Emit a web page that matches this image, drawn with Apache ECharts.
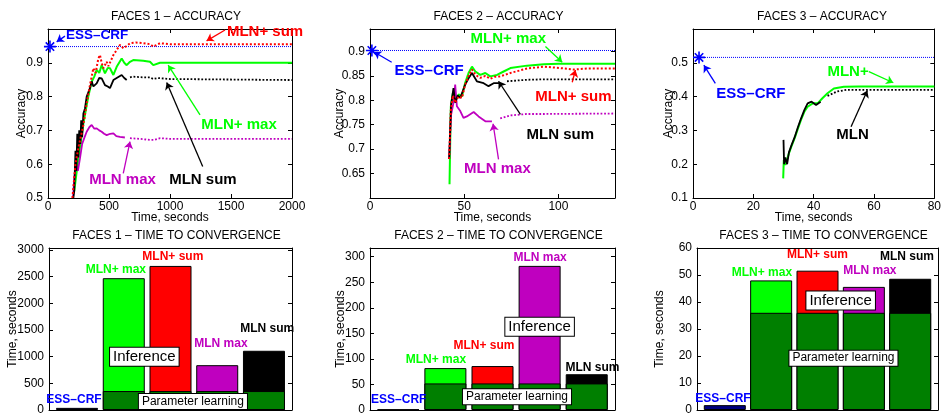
<!DOCTYPE html>
<html>
<head>
<meta charset="utf-8">
<script src="https://cdn.jsdelivr.net/npm/echarts@6/dist/echarts.min.js"></script>
<style>
  html, body { margin: 0; padding: 0; background: #fff; }
  #chart { width: 944px; height: 416px; }
</style>
</head>
<body>
<div id="chart"></div>
<script>
// accuracy curves, [time in seconds, accuracy]
const f1EssCrf = [16, 0.948]
const f1PlusSum = [[200,0.5],[225,0.6],[250,0.65],[290,0.716],[317,0.78],[344,0.834],[372,0.884],[390,0.87],[413,0.913],[426,0.923],[440,0.9],[454,0.884],[481,0.903],[495,0.89],[508,0.888],[536,0.923],[563,0.938],[590,0.953],[618,0.943],[645,0.95],[672,0.958],[720,0.96],[781,0.958],[836,0.955],[863,0.948],[918,0.958],[1000,0.955],[2000,0.955]]
const f1PlusMax = [[215,0.52],[250,0.62],[290,0.72],[330,0.8],[358,0.844],[380,0.86],[399,0.879],[420,0.87],[440,0.893],[467,0.869],[490,0.885],[508,0.884],[536,0.864],[563,0.888],[604,0.913],[625,0.9],[645,0.893],[672,0.903],[699,0.908],[780,0.906],[836,0.903],[863,0.893],[918,0.9],[1000,0.9],[2000,0.9]]
const f1Sum = [[208,0.5],[215,0.52],[225,0.64],[232,0.58],[240,0.69],[248,0.62],[256,0.7],[265,0.66],[272,0.73],[280,0.68],[290,0.75],[303,0.765],[317,0.8],[344,0.825],[358,0.845],[372,0.83],[399,0.839],[420,0.855],[440,0.854],[467,0.834],[490,0.83],[508,0.825],[536,0.849],[563,0.855],[604,0.864],[625,0.855],[645,0.849],[672,0.857],[699,0.859],[780,0.857],[836,0.857],[863,0.852],[900,0.855],[1000,0.852],[2000,0.849]]
const f1Max = [[205,0.5],[215,0.56],[230,0.6],[245,0.58],[262,0.617],[280,0.66],[300,0.68],[317,0.696],[340,0.71],[358,0.716],[380,0.705],[399,0.706],[420,0.7],[440,0.696],[460,0.69],[481,0.686],[510,0.69],[536,0.691],[560,0.683],[590,0.681],[630,0.679],[672,0.677],[750,0.675],[836,0.672],[870,0.672],[920,0.677],[1000,0.675],[2000,0.675]]

const f2EssCrf = [1, 0.902]
const f2PlusMax = [[42.2,0.628],[42.5,0.7],[42.9,0.788],[44,0.815],[45.2,0.798],[47,0.812],[48.8,0.808],[50.5,0.836],[52.3,0.856],[54.1,0.869],[55.9,0.859],[58.5,0.852],[61.2,0.856],[63.8,0.849],[67.4,0.852],[70.9,0.859],[74.5,0.866],[83.3,0.871],[92.2,0.874],[100,0.875],[130,0.875]]
const f2PlusSum = [[42,0.68],[42.9,0.78],[44,0.81],[45.2,0.795],[47,0.808],[48.8,0.805],[50.5,0.832],[52.3,0.85],[54.1,0.863],[56,0.852],[58.5,0.846],[61.2,0.85],[63.8,0.844],[66,0.848],[69.1,0.849],[74.5,0.856],[83.3,0.865],[92.2,0.869],[101,0.866],[108,0.863],[115,0.865],[130,0.865]]
const f2Sum = [[42,0.68],[43,0.79],[44.3,0.825],[45.2,0.795],[46.5,0.81],[47.9,0.805],[50.5,0.832],[52.3,0.845],[54.1,0.856],[56.7,0.839],[60.3,0.835],[62.9,0.829],[65.6,0.835],[69.1,0.835],[72.7,0.839],[83.3,0.842],[92.2,0.843],[130,0.843]]
const f2Max = [[42,0.68],[43,0.77],[44.3,0.795],[45.2,0.832],[46.1,0.788],[47.9,0.778],[49.6,0.764],[51.4,0.767],[55,0.776],[57.6,0.767],[61.2,0.757],[64.7,0.757],[69.1,0.763],[74.5,0.769],[83,0.772],[92.2,0.772],[130,0.773]]

const f3EssCrf = [2, 0.516]
const f3Plus = [[29.9,0.158],[30.1,0.212],[30.6,0.198],[31.8,0.232],[32.6,0.252],[33.7,0.277],[34.8,0.306],[35.8,0.331],[36.9,0.355],[38,0.37],[39.7,0.38],[41.3,0.38],[42.9,0.395],[44.6,0.41],[46.7,0.424],[50,0.429],[55,0.43],[80,0.43]]
const f3Mln = [[30,0.272],[30.2,0.2],[30.6,0.22],[31.2,0.2],[31.8,0.235],[32.6,0.255],[33.7,0.28],[34.8,0.31],[35.8,0.335],[36.9,0.36],[38,0.38],[39.3,0.385],[40.8,0.375],[42.3,0.385],[44.6,0.402],[47.7,0.415],[50.9,0.42],[80,0.42]]

// time to convergence, seconds (ESS-CRF, MLN+ max, MLN+ sum, MLN max, MLN sum)
const methods = ['ESS–CRF', 'MLN+ max', 'MLN+ sum', 'MLN max', 'MLN sum']
const f1Total = [40, 2470, 2700, 840, 1110]
const f1Learn = [0, 355, 355, 355, 355]
const f2Total = [1, 82, 86, 282, 70]
const f2Learn = [0, 52, 52, 52, 52]
const f3Total = [1.8, 48, 51.6, 45.6, 48.6]
const f3Learn = [0, 36, 36, 36, 36]

const FONT = '"Liberation Sans", Arial, Helvetica, sans-serif'
const BLUE = '#0000ff', RED = '#ff0000', GREEN = '#00ff00', BLACK = '#000000', PURPLE = '#bf00bf'
const DKGREEN = '#007f00', NAVY = '#00007f'
const barColors = [NAVY, GREEN, RED, PURPLE, BLACK]
const STAR = 'path://M10,0L10,20M0,10L20,10M3,3L17,17M3,17L17,3'

// panel frames
const panels = [
  { title: 'FACES 1 – ACCURACY', left: 48, top: 29, width: 244, height: 169, x: [0, 2000, 500], y: [0.5, 1, 0.1], yName: 'Accuracy', yGap: 20 },
  { title: 'FACES 2 – ACCURACY', left: 370, top: 29, width: 245, height: 169, x: [0, 130, 50], y: [0.6, 0.946, 0.05], yName: 'Accuracy', yGap: 24, hideMinY: true },
  { title: 'FACES 3 – ACCURACY', left: 693, top: 29, width: 246, height: 169, x: [0, 80, 20], y: [0.1, 0.6, 0.1], yName: 'Accuracy', yGap: 18 },
  { title: 'FACES 1 – TIME TO CONVERGENCE', left: 49, top: 248, width: 243, height: 167, x: [0.4, 5.6, null], y: [0, 3036, 500], yName: 'Time, seconds', yGap: 30, bars: true },
  { title: 'FACES 2 – TIME TO CONVERGENCE', left: 370, top: 248, width: 245, height: 167, x: [0.4, 5.6, null], y: [0, 317, 50], yName: 'Time, seconds', yGap: 23, bars: true },
  { title: 'FACES 3 – TIME TO CONVERGENCE', left: 697, top: 248, width: 241, height: 167, x: [0.4, 5.6, null], y: [0, 60, 10], yName: 'Time, seconds', yGap: 31, bars: true }
]

// text notes and arrows, in data coordinates
const notes = [
  [
    { text: 'ESS–CRF', at: [402, 0.982], color: BLUE, size: 13.5, from: [139, 0.979], to: [71, 0.962] },
    { text: 'MLN+ sum', at: [1779, 0.992], color: RED, from: [1451, 0.997], to: [1300, 0.965] },
    { text: 'MLN+ max', at: [1566, 0.716], color: GREEN, from: [1246, 0.746], to: [985, 0.893] },
    { text: 'MLN sum', at: [1270, 0.553], color: BLACK, from: [1268, 0.593], to: [973, 0.842] },
    { text: 'MLN max', at: [611, 0.553], color: PURPLE, from: [617, 0.573], to: [672, 0.667] }
  ],
  [
    { text: 'MLN+ max', at: [73.4, 0.925], color: GREEN, from: [93.1, 0.91], to: [102, 0.878] },
    { text: 'ESS–CRF', at: [31.4, 0.861], color: BLUE, from: [11.5, 0.878], to: [2.2, 0.899] },
    { text: 'MLN+ sum', at: [107.9, 0.808], color: RED, from: [107.3, 0.837], to: [109, 0.862] },
    { text: 'MLN sum', at: [101, 0.73], color: BLACK, from: [79.8, 0.771], to: [68.2, 0.839] },
    { text: 'MLN max', at: [67.6, 0.659], color: PURPLE, from: [68.2, 0.679], to: [65.3, 0.752] }
  ],
  [
    { text: 'ESS–CRF', at: [19.2, 0.407], color: BLUE, from: [7.4, 0.439], to: [3.6, 0.493] },
    { text: 'MLN+', at: [51.4, 0.474], color: GREEN, from: [58.3, 0.474], to: [66.4, 0.441] },
    { text: 'MLN', at: [52.9, 0.286], color: BLACK, from: [52.4, 0.311], to: [57.8, 0.418] }
  ],
  [
    { text: 'MLN+ max', at: [1.83, 2637], color: GREEN, size: 12 },
    { text: 'MLN+ sum', at: [3.05, 2872], color: RED, size: 12 },
    { text: 'MLN max', at: [4.08, 1243], color: PURPLE, size: 12 },
    { text: 'MLN sum', at: [5.07, 1515], color: BLACK, size: 12 },
    { text: 'ESS–CRF', at: [0.935, 194], color: BLUE, size: 12 },
    { text: 'Inference', at: [2.44, 999], box: 15 },
    { text: 'Parameter learning', at: [3.48, 157], box: 12 }
  ],
  [
    { text: 'MLN+ max', at: [1.8, 98.3], color: GREEN, size: 12 },
    { text: 'MLN+ sum', at: [2.82, 125], color: RED, size: 12 },
    { text: 'MLN max', at: [4.01, 298], color: PURPLE, size: 12 },
    { text: 'MLN sum', at: [5.12, 83], color: BLACK, size: 12 },
    { text: 'ESS–CRF', at: [1.01, 20.4], color: BLUE, size: 12 },
    { text: 'Inference', at: [4.0, 163], box: 15 },
    { text: 'Parameter learning', at: [3.52, 26], box: 12 }
  ],
  [
    { text: 'MLN+ max', at: [1.8, 51.0], color: GREEN, size: 12 },
    { text: 'MLN+ sum', at: [3.0, 57.5], color: RED, size: 12 },
    { text: 'MLN max', at: [4.13, 51.7], color: PURPLE, size: 12 },
    { text: 'MLN sum', at: [4.93, 56.9], color: BLACK, size: 12 },
    { text: 'ESS–CRF', at: [0.96, 4.3], color: BLUE, size: 12 },
    { text: 'Inference', at: [3.5, 40.6], box: 15 },
    { text: 'Parameter learning', at: [3.56, 19.2], box: 12 }
  ]
]

const plain = v => String(+v.toFixed(3))

const axisBase = (gridIndex, range, extra) => Object.assign({
  type: 'value',
  gridIndex,
  min: range[0],
  max: range[1],
  interval: range[2] || undefined,
  axisLine: { show: true, onZero: false, lineStyle: { color: '#000', width: 1 } },
  axisTick: { show: true, inside: true, length: 4, lineStyle: { color: '#000' } },
  axisLabel: { show: false },
  splitLine: { show: false }
}, extra)

const grid = [], xAxis = [], yAxis = [], series = [], title = []

panels.forEach((p, i) => {
  grid.push({ left: p.left, top: p.top, width: p.width, height: p.height })
  title.push({
    text: p.title, left: p.left + p.width / 2 + 1, top: p.top - 23, textAlign: 'center',
    textStyle: { fontSize: 12, fontWeight: 'normal', fontFamily: FONT, color: '#000' }
  })
  const lab = { show: true, color: '#000', fontSize: 12, fontFamily: FONT, formatter: plain }
  xAxis.push(axisBase(i, p.x, {
    position: 'bottom',
    axisTick: { show: !p.bars, inside: true, length: 4, lineStyle: { color: '#000' } },
    axisLabel: p.bars ? { show: false } : Object.assign({ margin: 3, showMaxLabel: p.x[1] % p.x[2] === 0 }, lab),
    name: p.bars ? '' : 'Time, seconds',
    nameLocation: 'middle',
    nameGap: 14,
    nameMoveOverlap: false,
    nameTextStyle: { fontSize: 12, fontFamily: FONT, color: '#000' }
  }))
  xAxis.push(axisBase(i, p.x, {
    position: 'top',
    axisTick: { show: !p.bars, inside: true, length: 4, lineStyle: { color: '#000' } }
  }))
  yAxis.push(axisBase(i, p.y, {
    position: 'left',
    axisLabel: Object.assign({ margin: 5, showMinLabel: !p.hideMinY, showMaxLabel: p.y[1] % p.y[2] === 0 }, lab),
    name: p.yName,
    nameLocation: 'middle',
    nameGap: p.yGap,
    nameMoveOverlap: false,
    nameTextStyle: { fontSize: 12, fontFamily: FONT, color: '#000' }
  }))
  yAxis.push(axisBase(i, p.y, { position: 'right' }))
})

const ax = i => ({ xAxisIndex: 2 * i, yAxisIndex: 2 * i })

const line = (i, data, color, type, width) => Object.assign({
  type: 'line', data, symbol: 'none', animation: false,
  lineStyle: { color, type, width: width || 1.8 }
}, ax(i))

// dense part drawn solid, sparse tail dotted
const splitLine = (i, data, color, at) => [
  line(i, data.filter(d => d[0] <= at), color, 'solid'),
  line(i, data.filter(d => d[0] >= at), color, 'dotted', 1.8)
]

const essSeries = (i, pt) => {
  const p = panels[i]
  return [
    line(i, [[p.x[0], pt[1]], [p.x[1], pt[1]]], BLUE, 'dotted', 1),
    Object.assign({
      type: 'scatter', data: [pt], symbol: STAR, symbolSize: 12, animation: false,
      itemStyle: { color: 'rgba(0,0,0,0)', opacity: 1, borderColor: BLUE, borderWidth: 1.6 }
    }, ax(i))
  ]
}

series.push(
  ...essSeries(0, f1EssCrf),
  line(0, f1PlusMax, GREEN, 'solid', 2),
  ...splitLine(0, f1Max, PURPLE, 650),
  ...splitLine(0, f1Sum, BLACK, 650),
  line(0, f1PlusSum, RED, 'dotted', 2),

  ...essSeries(1, f2EssCrf),
  line(1, f2PlusMax, GREEN, 'solid', 2),
  ...splitLine(1, f2Max, PURPLE, 65),
  ...splitLine(1, f2Sum, BLACK, 70),
  line(1, f2PlusSum, RED, 'dotted', 2),

  ...essSeries(2, f3EssCrf),
  line(2, f3Plus, GREEN, 'solid', 2),
  ...splitLine(2, f3Mln, BLACK, 44)
)

;[[f1Total, f1Learn], [f2Total, f2Learn], [f3Total, f3Learn]].forEach(([total, learn], k) => {
  const i = k + 3
  series.push(Object.assign({
    type: 'bar', barWidth: 42, animation: false,
    data: total.map((v, j) => ({ name: methods[j], value: [j + 1, v], itemStyle: { color: barColors[j] } })),
    itemStyle: { borderColor: '#000', borderWidth: 1 }
  }, ax(i)))
  series.push(Object.assign({
    type: 'bar', barWidth: 42, barGap: '-100%', animation: false,
    data: learn.map((v, j) => v > 0 ? [j + 1, v] : [j + 1, '-']),
    itemStyle: { color: DKGREEN, borderColor: '#000', borderWidth: 1 }
  }, ax(i)))
})

// annotations
notes.forEach((list, i) => {
  series.push(Object.assign({
    type: 'scatter', symbolSize: 1, animation: false, silent: true, z: 10,
    itemStyle: { color: 'rgba(0,0,0,0)', opacity: 1 },
    data: list.map(n => ({
      value: n.at,
      label: n.box ? {
        show: true, position: 'inside', formatter: n.text, color: '#000', fontSize: n.box, fontFamily: FONT,
        backgroundColor: '#fff', borderColor: '#000', borderWidth: 1, padding: [2, 3, 1, 3]
      } : {
        show: true, position: 'inside', formatter: n.text, color: n.color, fontSize: n.size || 15,
        fontWeight: 'bold', fontFamily: FONT
      }
    })),
    markLine: {
      silent: true, animation: false, symbol: ['none', 'arrow'], symbolSize: 7,
      label: { show: false },
      data: list.filter(n => n.from).map(n => [
        { coord: n.from, lineStyle: { color: n.color, width: 1.3, type: 'solid', opacity: 1 } },
        { coord: n.to }
      ])
    }
  }, ax(i)))
})

const myChart = echarts.init(document.getElementById('chart'), null, { renderer: 'canvas' })
myChart.setOption({ animation: false, title, grid, xAxis, yAxis, series })
</script>
</body>
</html>
